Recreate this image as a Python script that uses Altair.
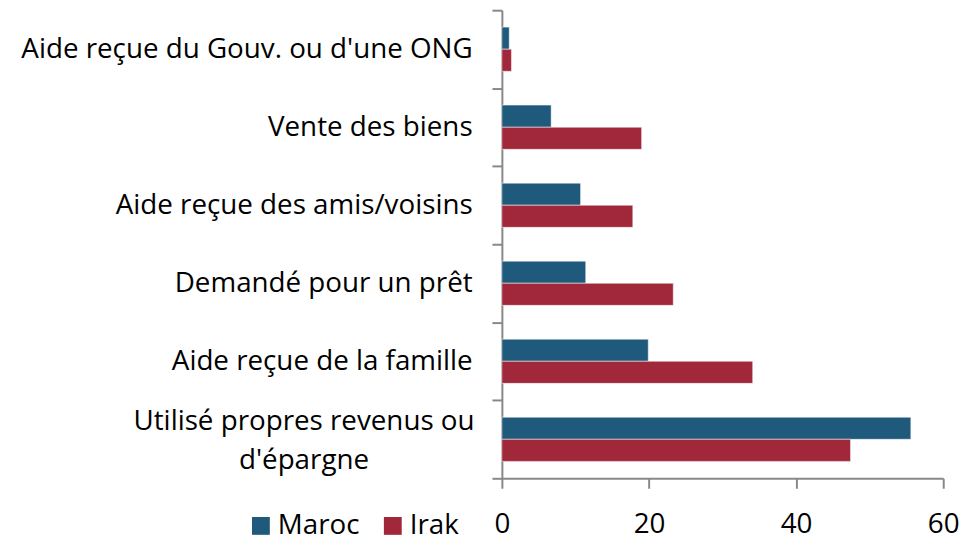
import altair as alt
import pandas as pd

categories = [
    "Aide reçue du Gouv. ou d'une ONG",
    "Vente des biens",
    "Aide reçue des amis/voisins",
    "Demandé pour un prêt",
    "Aide reçue de la famille",
    "Utilisé propres revenus ou|d'épargne",
]
maroc = [1.0, 6.7, 10.7, 11.4, 19.9, 55.6]
irak = [1.3, 19.0, 17.8, 23.3, 34.1, 47.4]
series = ["Maroc", "Irak"]
colors = ["#1F5A7C", "#A0283A"]
x_ticks = [0, 20, 40, 60]

rows = []
for c, m, i in zip(categories, maroc, irak):
    rows.append({"cat": c, "pays": "Maroc", "val": m})
    rows.append({"cat": c, "pays": "Irak", "val": i})
df = pd.DataFrame(rows)

FONT = "Open Sans"
multi_test = "isString(datum.value) && indexof(datum.value, '|') >= 0"

chart = alt.Chart(df).mark_bar(stroke="#ffffff", strokeOpacity=0.5, strokeWidth=1).encode(
    x=alt.X("val:Q",
            scale=alt.Scale(domain=[0, 60], nice=False),
            axis=alt.Axis(values=x_ticks, title=None, grid=False, tickSize=10,
                          labelFlush=False,
                          labelPadding=23, labelFontSize=28, labelFont=FONT,
                          labelColor="#000000", domainColor="#888888",
                          tickColor="#888888", domainWidth=2, tickWidth=2)),
    y=alt.Y("cat:N", sort=categories,
            scale=alt.Scale(paddingInner=0, paddingOuter=0),
            axis=alt.Axis(title=None, grid=False, tickBand="extent", tickSize=10,
                          labelExpr="isString(datum.label) ? split(datum.label, '|') : ''",
                          labelLineHeight=39,
                          labelAlign={"condition": {"test": multi_test, "value": "center"}, "value": "right"},
                          labelPadding={"condition": {"test": multi_test, "value": 190}, "value": 20},
                          labelOffset={"condition": {"test": multi_test, "value": -18}, "value": 0},
                          labelFontSize=28, labelFont=FONT, labelColor="#000000",
                          labelLimit=600,
                          domainColor="#888888", tickColor="#888888",
                          domainWidth=2, tickWidth=2)),
    yOffset=alt.YOffset("pays:N", sort=series,
                        scale=alt.Scale(paddingInner=0, paddingOuter=0.765)),
    color=alt.Color("pays:N", sort=series,
                    scale=alt.Scale(domain=series, range=colors),
                    legend=alt.Legend(title=None, orient="none", direction="horizontal",
                                      legendX=-257, legendY=506, padding=0,
                                      symbolType="square", symbolSize=324,
                                      symbolStrokeWidth=0, symbolOpacity=1,
                                      labelFontSize=28, labelFont=FONT,
                                      labelColor="#000000", labelOffset=3,
                                      columnPadding=19)),
).properties(
    width=445, height=472,
    autosize=alt.AutoSizeParams(type="none"),
    padding={"left": 498, "top": 0, "right": 25, "bottom": 60},
).configure_view(stroke=None)

chart.save("out.html", embed_options={"renderer": "svg", "actions": False})
